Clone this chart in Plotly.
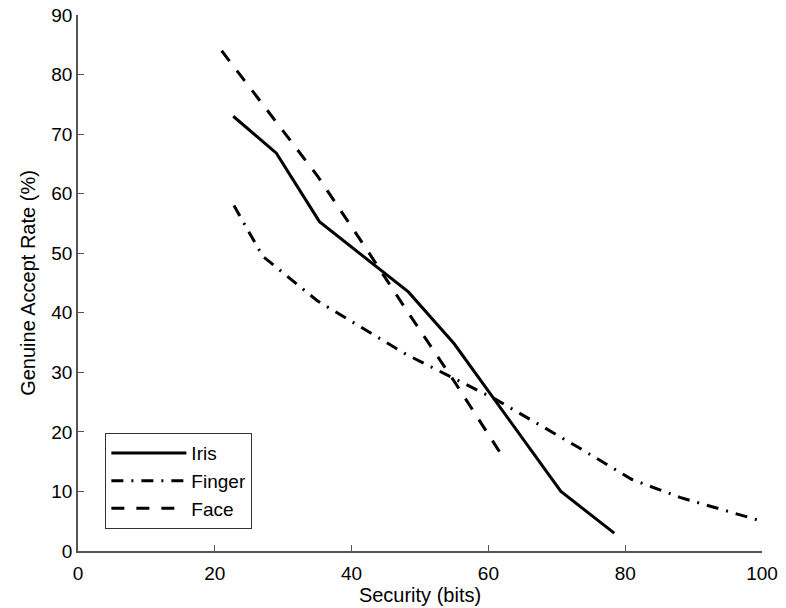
import plotly.graph_objects as go

iris_x = [22.7, 29.0, 35.3, 48.3, 55.0, 70.6, 78.4]
iris_y = [73.0, 66.8, 55.3, 43.5, 34.8, 10.0, 3.0]

finger_x = [22.8, 27.0, 35.0, 48.0, 61.0, 73.0, 81.0, 88.0, 100.0]
finger_y = [58.0, 49.5, 42.0, 33.0, 25.5, 17.5, 12.0, 9.0, 5.0]

face_x = [21.0, 28.0, 35.0, 42.0, 48.0, 55.0, 62.0]
face_y = [84.0, 73.5, 63.0, 51.0, 40.5, 28.5, 16.0]

x_ticks = [0, 20, 40, 60, 80, 100]
y_ticks = [0, 10, 20, 30, 40, 50, 60, 70, 80, 90]

FONT = "Liberation Sans, Arial, Helvetica, sans-serif"

fig = go.Figure()
fig.add_trace(go.Scatter(x=iris_x, y=iris_y, mode="lines", name="Iris",
                         line=dict(color="black", width=3, dash="solid")))
fig.add_trace(go.Scatter(x=finger_x, y=finger_y, mode="lines", name="Finger",
                         line=dict(color="black", width=3, dash="12px,8px,2px,8px")))
fig.add_trace(go.Scatter(x=face_x, y=face_y, mode="lines", name="Face",
                         line=dict(color="black", width=3, dash="13px,12px")))

axis_common = dict(
    showline=True, linecolor="#555555", linewidth=1.5,
    ticks="inside", ticklen=6, tickcolor="#555555", tickwidth=1,
    showgrid=False, zeroline=False, mirror=False, automargin=False,
    tickfont=dict(family=FONT, size=19, color="black"),
)

fig.update_xaxes(range=[0, 100], tickvals=x_ticks, ticklabelstandoff=4,
                 title=dict(text="Security (bits)", font=dict(family=FONT, size=20, color="black"), standoff=3),
                 **axis_common)
fig.update_yaxes(range=[0, 90], tickvals=y_ticks,
                 title=dict(text="Genuine Accept Rate (%)", font=dict(family=FONT, size=20, color="black"), standoff=10),
                 **axis_common)

fig.update_layout(
    width=786, height=608,
    margin=dict(l=78, r=24, t=15, b=57),
    paper_bgcolor="white", plot_bgcolor="white",
    font=dict(family=FONT, size=19, color="black"),
    legend=dict(x=0.04, y=0.22, xanchor="left", yanchor="top",
                bgcolor="white", bordercolor="#333333", borderwidth=1,
                font=dict(family=FONT, size=19, color="black"),
                itemwidth=75, tracegroupgap=0),
    showlegend=True,
)

fig.write_html("out.html", config={"displayModeBar": False},
               post_script="document.body.style.margin='0';")
